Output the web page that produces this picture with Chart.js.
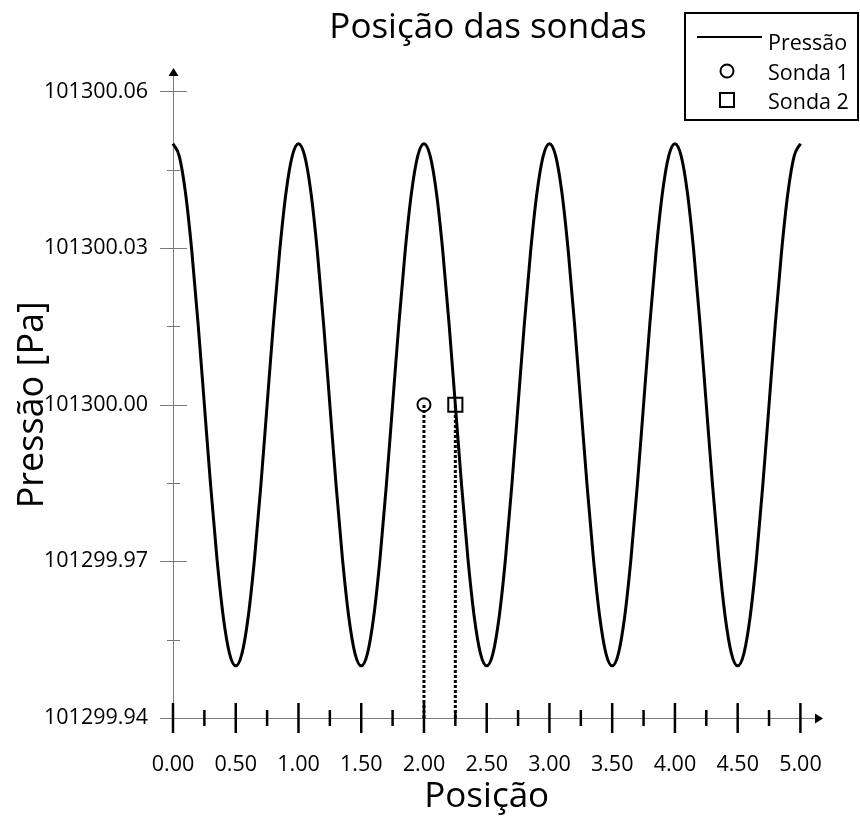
<!DOCTYPE html>
<html>
<head>
<meta charset="utf-8">
<title>Posição das sondas</title>
<script src="https://cdn.jsdelivr.net/npm/chart.js@4.4.1/dist/chart.umd.min.js"></script>
<style>
    html, body { margin: 0; padding: 0; background: #fff; }
    #wrap { width: 860px; height: 823px; }
</style>
</head>
<body>
<div id="wrap"><canvas id="sondas-chart" width="860" height="823"></canvas></div>
<script>
// Pressure along the domain
const positions = [
    0.00, 0.05, 0.10, 0.15, 0.20, 0.25, 0.30, 0.35, 0.40, 0.45, 0.50, 0.55, 0.60, 0.65, 0.70, 0.75, 0.80, 0.85, 0.90, 0.95,
    1.00, 1.05, 1.10, 1.15, 1.20, 1.25, 1.30, 1.35, 1.40, 1.45, 1.50, 1.55, 1.60, 1.65, 1.70, 1.75, 1.80, 1.85, 1.90, 1.95,
    2.00, 2.05, 2.10, 2.15, 2.20, 2.25, 2.30, 2.35, 2.40, 2.45, 2.50, 2.55, 2.60, 2.65, 2.70, 2.75, 2.80, 2.85, 2.90, 2.95,
    3.00, 3.05, 3.10, 3.15, 3.20, 3.25, 3.30, 3.35, 3.40, 3.45, 3.50, 3.55, 3.60, 3.65, 3.70, 3.75, 3.80, 3.85, 3.90, 3.95,
    4.00, 4.05, 4.10, 4.15, 4.20, 4.25, 4.30, 4.35, 4.40, 4.45, 4.50, 4.55, 4.60, 4.65, 4.70, 4.75, 4.80, 4.85, 4.90, 4.95,
    5.00
];
const pressure = [
    101300.0500, 101300.0476, 101300.0405, 101300.0294, 101300.0155, 101300.0000, 101299.9845, 101299.9706, 101299.9595, 101299.9524,
    101299.9500, 101299.9524, 101299.9595, 101299.9706, 101299.9845, 101300.0000, 101300.0155, 101300.0294, 101300.0405, 101300.0476,
    101300.0500, 101300.0476, 101300.0405, 101300.0294, 101300.0155, 101300.0000, 101299.9845, 101299.9706, 101299.9595, 101299.9524,
    101299.9500, 101299.9524, 101299.9595, 101299.9706, 101299.9845, 101300.0000, 101300.0155, 101300.0294, 101300.0405, 101300.0476,
    101300.0500, 101300.0476, 101300.0405, 101300.0294, 101300.0155, 101300.0000, 101299.9845, 101299.9706, 101299.9595, 101299.9524,
    101299.9500, 101299.9524, 101299.9595, 101299.9706, 101299.9845, 101300.0000, 101300.0155, 101300.0294, 101300.0405, 101300.0476,
    101300.0500, 101300.0476, 101300.0405, 101300.0294, 101300.0155, 101300.0000, 101299.9845, 101299.9706, 101299.9595, 101299.9524,
    101299.9500, 101299.9524, 101299.9595, 101299.9706, 101299.9845, 101300.0000, 101300.0155, 101300.0294, 101300.0405, 101300.0476,
    101300.0500, 101300.0476, 101300.0405, 101300.0294, 101300.0155, 101300.0000, 101299.9845, 101299.9706, 101299.9595, 101299.9524,
    101299.9500, 101299.9524, 101299.9595, 101299.9706, 101299.9845, 101300.0000, 101300.0155, 101300.0294, 101300.0405, 101300.0476,
    101300.0500
];

// Probes
const probeNames = ['Sonda 1', 'Sonda 2'];
const probeX = [2.00, 2.25];
const probeY = [101300.00, 101300.00];

// Axis ticks
const xTicks = [0, 0.5, 1, 1.5, 2, 2.5, 3, 3.5, 4, 4.5, 5];
const xMinorTicks = [0.25, 0.75, 1.25, 1.75, 2.25, 2.75, 3.25, 3.75, 4.25, 4.75];
const yTicks = [101299.94, 101299.97, 101300.00, 101300.03, 101300.06];
const yMinorTicks = [101299.955, 101299.985, 101300.015, 101300.045];

const xMin = 0, xMax = 5.18;
const yMin = 101299.94, yMax = 101300.0645;

const FONT = "'Open Sans', 'Noto Sans', sans-serif";
Chart.defaults.font.family = FONT;
Chart.defaults.color = '#000';

// Arrowed axes with crossing ticks, titles and the framed legend
const axesPlugin = {
    id: 'axes',
    beforeDatasetsDraw(chart) {
        const ctx = chart.ctx;
        const xs = chart.scales.x, ys = chart.scales.y;
        const x0 = xs.getPixelForValue(0);
        const y0 = ys.getPixelForValue(yMin);
        const xEnd = xs.getPixelForValue(xMax);
        const yEnd = ys.getPixelForValue(yMax);

        ctx.save();
        ctx.strokeStyle = '#7a7a7a';
        ctx.fillStyle = '#000';
        ctx.lineWidth = 1;

        // y axis
        ctx.beginPath();
        ctx.moveTo(x0 + 0.5, y0);
        ctx.lineTo(x0 + 0.5, yEnd + 6);
        ctx.stroke();
        ctx.beginPath();
        ctx.moveTo(x0 + 0.5, yEnd);
        ctx.lineTo(x0 - 4.5, yEnd + 8);
        ctx.lineTo(x0 + 5.5, yEnd + 8);
        ctx.closePath();
        ctx.fill();

        // x axis
        ctx.beginPath();
        ctx.moveTo(x0 - 13, y0 + 0.5);
        ctx.lineTo(xEnd - 6, y0 + 0.5);
        ctx.stroke();
        ctx.beginPath();
        ctx.moveTo(xEnd, y0 + 0.5);
        ctx.lineTo(xEnd - 8, y0 - 4.5);
        ctx.lineTo(xEnd - 8, y0 + 5.5);
        ctx.closePath();
        ctx.fill();

        // y ticks
        yTicks.forEach(v => {
            const py = Math.round(ys.getPixelForValue(v)) + 0.5;
            ctx.beginPath();
            ctx.moveTo(x0 - 13, py);
            ctx.lineTo(x0 + 14, py);
            ctx.stroke();
        });
        yMinorTicks.forEach(v => {
            const py = Math.round(ys.getPixelForValue(v)) + 0.5;
            ctx.beginPath();
            ctx.moveTo(x0 - 6, py);
            ctx.lineTo(x0 + 7, py);
            ctx.stroke();
        });

        // x ticks
        ctx.strokeStyle = '#000';
        ctx.lineWidth = 2.5;
        xTicks.forEach(v => {
            const px = xs.getPixelForValue(v);
            ctx.beginPath();
            ctx.moveTo(px, y0 - 15);
            ctx.lineTo(px, y0 + 15);
            ctx.stroke();
        });
        xMinorTicks.forEach(v => {
            const px = xs.getPixelForValue(v);
            ctx.beginPath();
            ctx.moveTo(px, y0 - 8);
            ctx.lineTo(px, y0 + 8);
            ctx.stroke();
        });
        ctx.restore();
    },
    afterDraw(chart) {
        const ctx = chart.ctx;
        const xs = chart.scales.x, ys = chart.scales.y;
        ctx.save();
        ctx.fillStyle = '#000';

        // titles
        ctx.textAlign = 'center';
        ctx.textBaseline = 'alphabetic';
        ctx.font = '35px ' + FONT;
        ctx.fillText('Posição das sondas', 488, 38);

        const xMid = (xs.getPixelForValue(0) + xs.getPixelForValue(5)) / 2;
        ctx.fillText('Posição', xMid, 807);

        ctx.save();
        ctx.translate(43, ys.getPixelForValue(101300.00));
        ctx.rotate(-Math.PI / 2);
        ctx.font = '36px ' + FONT;
        ctx.fillText('Pressão [Pa]', 0, 0);
        ctx.restore();

        // legend
        ctx.strokeStyle = '#000';
        ctx.lineWidth = 2;
        ctx.strokeRect(685, 13, 173, 107);

        ctx.beginPath();
        ctx.moveTo(697, 37);
        ctx.lineTo(762, 37);
        ctx.stroke();

        ctx.beginPath();
        ctx.arc(727, 71, 6.5, 0, Math.PI * 2);
        ctx.stroke();

        ctx.strokeRect(720, 93, 14, 14);

        ctx.textAlign = 'left';
        ctx.font = '21.5px ' + FONT;
        ctx.fillText('Pressão', 768, 50);
        ctx.fillText(probeNames[0], 768, 80);
        ctx.fillText(probeNames[1], 768, 109);
        ctx.restore();
    }
};

const curve = positions.map((x, i) => ({ x: x, y: pressure[i] }));

const dropLines = probeX.map((x, i) => ({
    label: probeNames[i] + ' (linha)',
    data: [{ x: x, y: yMin }, { x: x, y: probeY[i] }],
    showLine: true,
    borderColor: '#000',
    borderWidth: 3,
    borderDash: [3, 2],
    pointRadius: 0,
    clip: false
}));

new Chart(document.getElementById('sondas-chart'), {
    type: 'scatter',
    data: {
        datasets: [
            {
                label: 'Pressão',
                data: curve,
                showLine: true,
                borderColor: '#000',
                borderWidth: 3,
                pointRadius: 0,
                cubicInterpolationMode: 'monotone',
                clip: false
            },
            ...dropLines,
            {
                label: probeNames[0],
                data: [{ x: probeX[0], y: probeY[0] }],
                pointStyle: 'circle',
                pointRadius: 6.5,
                borderColor: '#000',
                backgroundColor: '#fff',
                borderWidth: 2,
                clip: false
            },
            {
                label: probeNames[1],
                data: [{ x: probeX[1], y: probeY[1] }],
                pointStyle: 'rect',
                pointRadius: 10,
                borderColor: '#000',
                backgroundColor: '#fff',
                borderWidth: 2,
                clip: false
            }
        ]
    },
    options: {
        responsive: false,
        animation: false,
        layout: { padding: { top: 68, right: 37, left: 0, bottom: 0 } },
        plugins: {
            legend: { display: false },
            title: { display: false },
            tooltip: { enabled: false }
        },
        scales: {
            x: {
                type: 'linear',
                min: xMin,
                max: xMax,
                grid: { display: false, drawTicks: false },
                border: { display: false },
                afterBuildTicks: scale => { scale.ticks = xTicks.map(v => ({ value: v })); },
                afterFit: scale => { scale.height = 105; },
                ticks: {
                    padding: 34,
                    maxRotation: 0,
                    autoSkip: false,
                    font: { size: 21.5 },
                    callback: v => v.toFixed(2)
                }
            },
            y: {
                type: 'linear',
                min: yMin,
                max: yMax,
                grid: { display: false, drawTicks: false },
                border: { display: false },
                afterBuildTicks: scale => { scale.ticks = yTicks.map(v => ({ value: v })); },
                afterFit: scale => { scale.width = 173; },
                ticks: {
                    padding: 25,
                    autoSkip: false,
                    font: { size: 21.5 },
                    callback: v => v.toFixed(2)
                }
            }
        }
    },
    plugins: [axesPlugin]
});
</script>
</body>
</html>
